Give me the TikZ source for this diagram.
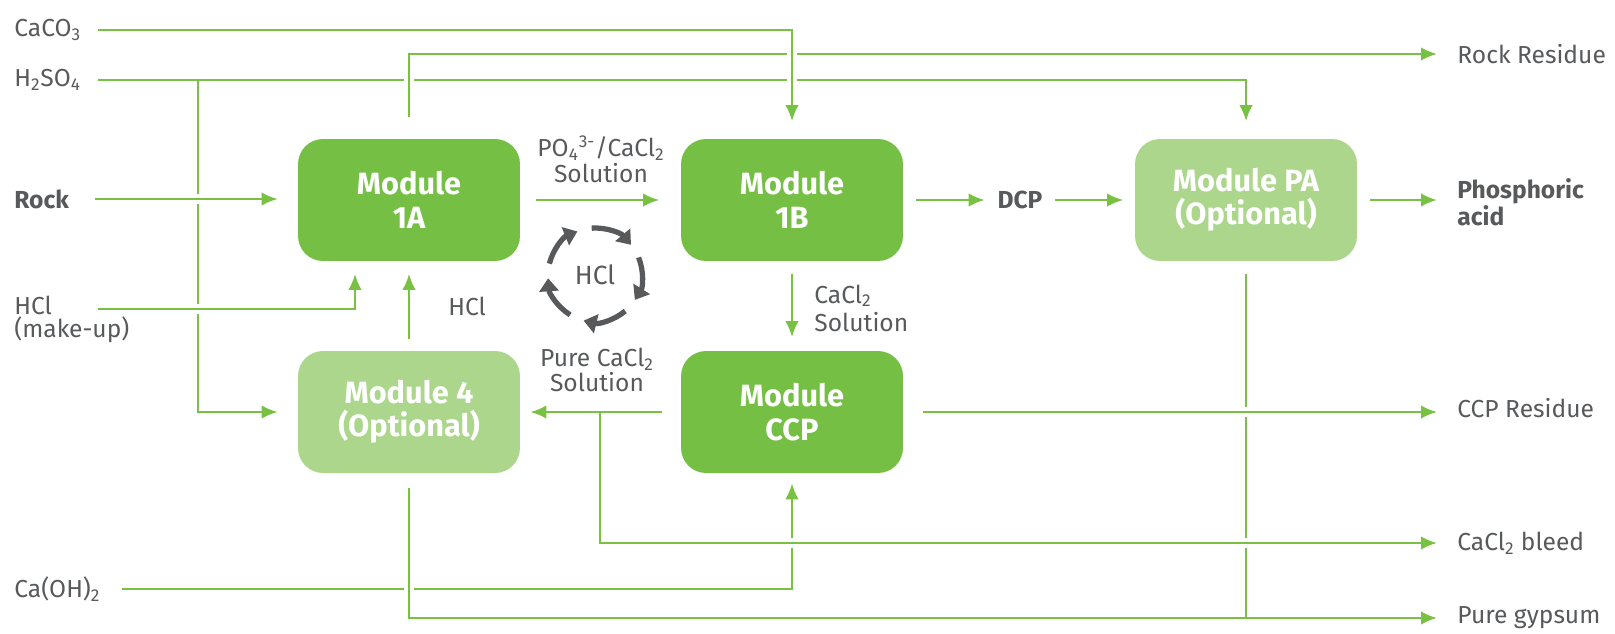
\documentclass[tikz,border=0pt]{standalone}
\usepackage{fontspec}
\setmainfont{Fira Sans}
\usetikzlibrary{arrows.meta}
\definecolor{dg}{HTML}{74BF44}
\definecolor{lg}{HTML}{ABD68B}
\definecolor{ln}{HTML}{79C143}
\definecolor{tx}{HTML}{58595B}
\begin{document}
\begin{tikzpicture}[x=0.02cm,y=-0.02cm,
  box/.style={rounded corners=0.5cm, minimum width=4.44cm, minimum height=2.44cm, align=center, text=white, font=\fontsize{17.5}{19}\selectfont\bfseries, inner sep=0},
  dbox/.style={box, fill=dg},
  lbox/.style={box, fill=lg},
  lbl/.style={text=tx, font=\fontsize{14}{15}\selectfont, inner sep=0},
  blbl/.style={text=tx, font=\fontsize{14}{12}\selectfont\bfseries, inner sep=0},
  pipe/.style={draw=ln, line width=1.4pt},
  flow/.style={pipe, -{Latex[length=0.32cm,width=0.27cm]}},
  over/.style={preaction={draw=white, line width=5.5pt, arrows=-}},
  cyc/.style={draw=tx, line width=3pt, -{Triangle[length=0.26cm,width=0.38cm]}}
]
\useasboundingbox (0,0) rectangle (1615,633);

% modules
\node[dbox] (m1a) at (409,200) {Module\\1A};
\node[dbox] (m1b) at (792,200) {Module\\1B};
\node[lbox] (mpa) at (1246,200) {Module PA\\(Optional)};
\node[lbox] (m4) at (409,412) {Module 4\\(Optional)};
\node[dbox] (mccp) at (792,412) {Module\\CCP};

% input labels
\node[lbl, anchor=west] (caco3) at (14,30) {CaCO\textsubscript{3}};
\node[lbl, anchor=west] (h2so4) at (14,80) {H\textsubscript{2}SO\textsubscript{4}};
\node[blbl, anchor=west] (rock) at (14,199) {Rock};
\node[lbl, anchor=west, align=left, font=\fontsize{14}{13}\selectfont] (hclm) at (14,319) {HCl\\(make-up)};
\node[lbl, anchor=west] (caoh) at (14,589) {Ca(OH)\textsubscript{2}};

% output labels
\node[lbl, anchor=west] (rres) at (1457,54) {Rock Residue};
\node[blbl, anchor=west, align=left] (phos) at (1457,202) {Phosphoric\\acid};
\node[lbl, anchor=west] (ccpres) at (1457,408) {CCP Residue};
\node[lbl, anchor=west] (bleed) at (1457,543) {CaCl\textsubscript{2} bleed};
\node[lbl, anchor=west] (gyp) at (1457,618) {Pure gypsum};

% inner labels
\node[blbl] (dcp) at (1020,200) {DCP};
\node[lbl, align=center, font=\fontsize{14}{14.6}\selectfont] (po4) at (601,159) {PO\textsubscript{4}\textsuperscript{3-}/CaCl\textsubscript{2}\\Solution};
\node[lbl, anchor=west] (hcll) at (448,306) {HCl};
\node[lbl, anchor=west, align=left, font=\fontsize{14}{16}\selectfont] (cacls) at (814,308) {CaCl\textsubscript{2}\\Solution};
\node[lbl, align=center, font=\fontsize{14}{14}\selectfont] (purec) at (597,370) {Pure CaCl\textsubscript{2}\\Solution};

% free ends
\coordinate (caco3in) at (98,30);
\coordinate (h2so4in) at (98,80);
\coordinate (brx) at (198,80);
\coordinate (rockin) at (95,199);
\coordinate (hclin) at (98,309);
\coordinate (caohin) at (122,589);
\coordinate (blx) at (600,412);

% top inputs
\draw[flow, shorten >=0.35cm] (h2so4in) -| (mpa.north);
\draw[flow] (brx) |- ([xshift=-0.4cm]m4.west);
\draw[flow, over, shorten <=0.44cm, shorten >=0.4cm] (m1a.north) |- (rres.west);
\draw[flow, over, shorten >=0.35cm] (caco3in) -| (m1b.north);
\draw[flow, over, shorten >=0.4cm] (rockin) -- (rockin -| m1a.west);
\draw[flow, over, shorten >=0.25cm] (hclin) -| ([xshift=-1.08cm]m1a.south);

% main row
\draw[flow, shorten <=0.23cm, shorten >=0.25cm] (m4.north) -- (m1a.south);
\draw[flow, shorten <=0.31cm, shorten >=0.43cm] (m1a.east) -- (m1b.west);
\draw[flow, shorten <=0.25cm, shorten >=0.25cm] (m1b.east) -- (m1b.east -| dcp.west);
\draw[flow, shorten <=0.25cm, shorten >=0.23cm] (dcp.east) -- (dcp.east -| mpa.west);
\draw[flow, shorten <=0.25cm, shorten >=0.4cm] (mpa.east) -- (mpa.east -| phos.west);
\draw[flow, shorten <=0.25cm, shorten >=0.27cm] (m1b.south) -- (mccp.north);

% bottom part
\draw[flow, shorten >=0.2cm] (caohin) -| (mccp.south);
\draw[flow, over, shorten <=0.3cm, shorten >=0.4cm] (m4.south) |- (gyp.west);
\draw[pipe, shorten <=0.25cm] (mpa.south) -- (mpa.south |- gyp.west);
\draw[flow, over, shorten <=0.4cm, shorten >=0.4cm] (mccp.east) -- (mccp.east -| ccpres.west);
\draw[flow, over, shorten >=0.4cm] (blx) |- (bleed.west);
\draw[flow, shorten <=0.37cm, shorten >=0.2cm] (mccp.west) -- (m4.east);

% HCl cycle
\node[lbl, font=\fontsize{15}{16}\selectfont] (hclc) at (595,275) {HCl};
\foreach \s in {166,94,22,-50,-122}
  \draw[cyc] ([shift={(\s:0.94cm)}]hclc.center) arc[start angle=\s, end angle=\s-54, radius=0.94cm];
\end{tikzpicture}
\end{document}
